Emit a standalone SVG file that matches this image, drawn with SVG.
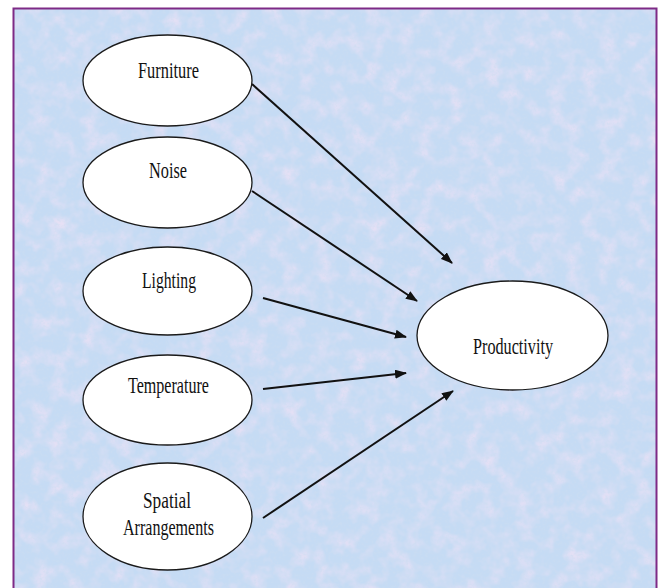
<svg xmlns="http://www.w3.org/2000/svg" width="659" height="588" viewBox="0 0 659 588">
<style>
.node ellipse{fill:#ffffff;stroke:#1a1a1a;stroke-width:1.3}
.node text{font-family:"Liberation Serif","Times New Roman",serif;font-size:23px;fill:#111;text-anchor:middle}
#connectors line{stroke:#111;stroke-width:2;marker-end:url(#ah)}
</style>
<defs>
<marker id="ah" markerWidth="12" markerHeight="9" refX="11" refY="4.5" orient="auto" markerUnits="userSpaceOnUse">
<path d="M0,0 L12,4.5 L0,9 Z" fill="#111"/>
</marker>
<filter id="pink" x="0" y="0" width="100%" height="100%">
<feTurbulence type="fractalNoise" baseFrequency="0.06" numOctaves="3" seed="7"/>
<feColorMatrix type="matrix" values="0 0 0 0 0.88  0 0 0 0 0.76  0 0 0 0 0.92  1.6 0 0 0 -0.68"/>
</filter>
<filter id="grain" x="0" y="0" width="100%" height="100%">
<feTurbulence type="fractalNoise" baseFrequency="0.35" numOctaves="2" seed="2"/>
<feColorMatrix type="matrix" values="0 0 0 0 0.6  0 0 0 0 0.72  0 0 0 0 0.88  0 1.4 0 0 -0.6"/>
</filter>
</defs>
<rect x="0" y="0" width="659" height="588" fill="#ffffff"/>
<g id="background">
<rect x="14" y="9" width="642" height="580" fill="#c5dbf4"/>
<rect x="14" y="9" width="642" height="580" filter="url(#pink)"/>
<rect x="14" y="9" width="642" height="580" filter="url(#grain)"/>
<path d="M13.5,590 L13.5,8.5 L656.5,8.5 L656.5,590" fill="none" stroke="#7e2a86" stroke-width="2"/>
</g>
<g id="connectors">
<line x1="252" y1="84" x2="452" y2="263"/>
<line x1="252" y1="191" x2="417" y2="301"/>
<line x1="263" y1="298" x2="406" y2="337"/>
<line x1="263" y1="389" x2="406" y2="373"/>
<line x1="263" y1="518" x2="453" y2="391"/>
</g>
<g id="furniture" class="node">
<ellipse cx="167.5" cy="80.5" rx="84.5" ry="45.5"/>
<text x="168.5" y="78" textLength="61" lengthAdjust="spacingAndGlyphs">Furniture</text>
</g>
<g id="noise" class="node">
<ellipse cx="167.5" cy="182.5" rx="84.5" ry="45.5"/>
<text x="168" y="178" textLength="38" lengthAdjust="spacingAndGlyphs">Noise</text>
</g>
<g id="lighting" class="node">
<ellipse cx="167.5" cy="291" rx="84.5" ry="44"/>
<text x="169" y="288" textLength="54" lengthAdjust="spacingAndGlyphs">Lighting</text>
</g>
<g id="temperature" class="node">
<ellipse cx="167.5" cy="400" rx="84.5" ry="45"/>
<text x="168.5" y="393" textLength="81" lengthAdjust="spacingAndGlyphs">Temperature</text>
</g>
<g id="spatial" class="node">
<ellipse cx="167.5" cy="516.5" rx="84.5" ry="53.5"/>
<text x="167" y="508" textLength="48" lengthAdjust="spacingAndGlyphs">Spatial</text>
<text x="168.5" y="535" textLength="91" lengthAdjust="spacingAndGlyphs">Arrangements</text>
</g>
<g id="productivity" class="node">
<ellipse cx="512.5" cy="335.5" rx="95.5" ry="54.5"/>
<text x="513" y="354" textLength="80" lengthAdjust="spacingAndGlyphs">Productivity</text>
</g>
</svg>
